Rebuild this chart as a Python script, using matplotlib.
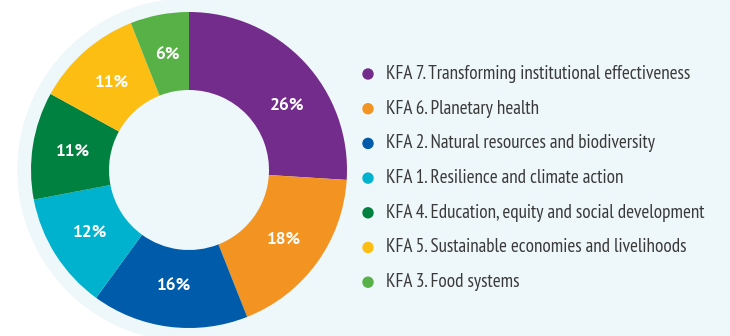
import numpy as np
import matplotlib.pyplot as plt
from matplotlib.patches import Circle, Rectangle

labels = [
    "KFA 7. Transforming institutional effectiveness",
    "KFA 6. Planetary health",
    "KFA 2. Natural resources and biodiversity",
    "KFA 1. Resilience and climate action",
    "KFA 4. Education, equity and social development",
    "KFA 5. Sustainable economies and livelihoods",
    "KFA 3. Food systems",
]
shares = [26, 18, 16, 12, 11, 11, 6]
colors = ["#732C8C", "#F39422", "#005BAA", "#00B2CE", "#00813F", "#FDBE13", "#57B147"]

bg = "#EEF7F9"
cx, cy, r_out, r_in = 189, 166, 158, 80

plt.rcParams['font.family'] = ['PT Sans Narrow', 'DejaVu Sans']

fig = plt.figure(figsize=(7.3, 3.36), dpi=100, facecolor="white")
ax = fig.add_axes([0, 0, 1, 1])

# light panel: circle around the donut plus the area to the right
ax.add_patch(Circle((cx, cy), 171, color=bg, zorder=0))
ax.add_patch(Rectangle((cx, 0), 730 - cx, 336, color=bg, zorder=0))

wedges, _ = ax.pie(shares, colors=colors, startangle=90, counterclock=False,
                   center=(cx, cy), radius=r_out, frame=True,
                   wedgeprops=dict(width=r_out - r_in, linewidth=0))
ax.set_xlim(0, 730)
ax.set_ylim(0, 336)
ax.set_aspect("equal")
ax.axis("off")

for i, (w, v) in enumerate(zip(wedges, shares)):
    mid = (w.theta1 + w.theta2) / 2
    if i == 0:
        mid -= 10
    rr = 117
    x = cx + rr * np.cos(np.radians(mid))
    y = cy + rr * np.sin(np.radians(mid))
    ax.text(x, y, f"{v}%", color="white", fontsize=12.5, fontweight="bold",
            family=["PT Sans", "DejaVu Sans"], ha="center", va="center")

# legend
y0, step = 336 - 74, 34.7
for i, (lab, c) in enumerate(zip(labels, colors)):
    y = y0 - i * step
    ax.add_patch(Circle((368, y), 5, color=c, zorder=3))
    ax.text(386, y, lab, color="#3A3A3A", fontsize=13.8, ha="left", va="center")

fig.savefig("out.png", dpi=100, facecolor="white")
